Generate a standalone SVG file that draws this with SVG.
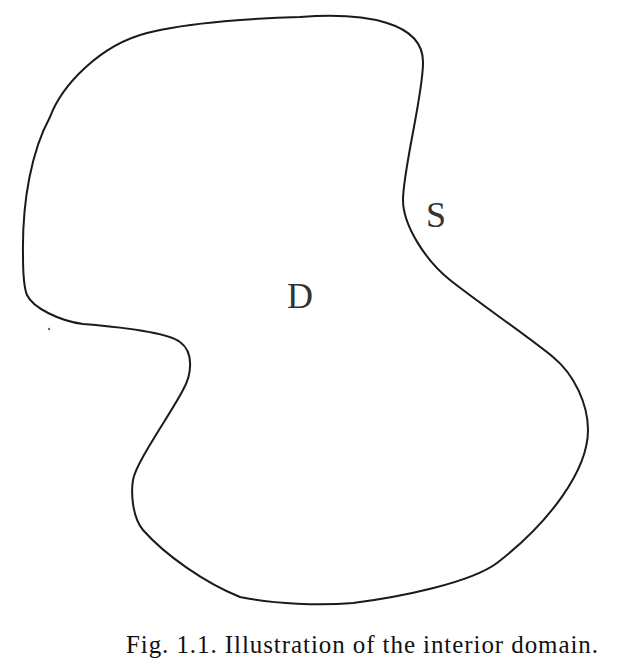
<svg xmlns="http://www.w3.org/2000/svg" width="630" height="672" viewBox="0 0 630 672">
<style>
.curve{fill:none;stroke:#1a1a1a;stroke-width:2;stroke-linejoin:round;stroke-linecap:round}
.lbl{font-family:"Liberation Serif","DejaVu Serif",serif;font-size:36px;fill:#333;text-anchor:middle}
.cap{font-family:"Liberation Serif","DejaVu Serif",serif;font-size:25px;fill:#111}
</style>
<rect width="630" height="672" fill="#fff"/>
<g id="boundary">
<path class="curve" d="M23,255 C22,200 32,150 50,117 C62,85 100,45 147,33 C190,22 260,18 300,17 C365,12 424,22 423,63 C423,95 403,170 403,200 C403,225 425,260 450,280 C475,300 530,338 553,357 C575,375 588,405 588,430 C588,470 550,522 497,563 C470,583 400,597 353,603 C320,606 275,604 240,597 C205,583 165,555 143,530 C132,517 131,492 133,480 C136,462 170,415 183,390 C192,374 194,352 180,342 C167,332 120,327 83,324 C60,321 33,308 27,295 C24,288 23,275 23,255 Z"/>
<circle cx="49" cy="329" r="1.2" fill="#666"/>
</g>
<g id="label-S"><text class="lbl" x="436" y="227">S</text></g>
<g id="label-D"><text class="lbl" x="300" y="308">D</text></g>
<g id="caption"><text class="cap" x="126" y="653" textLength="472" lengthAdjust="spacing">Fig. 1.1. Illustration of the interior domain.</text></g>
</svg>
